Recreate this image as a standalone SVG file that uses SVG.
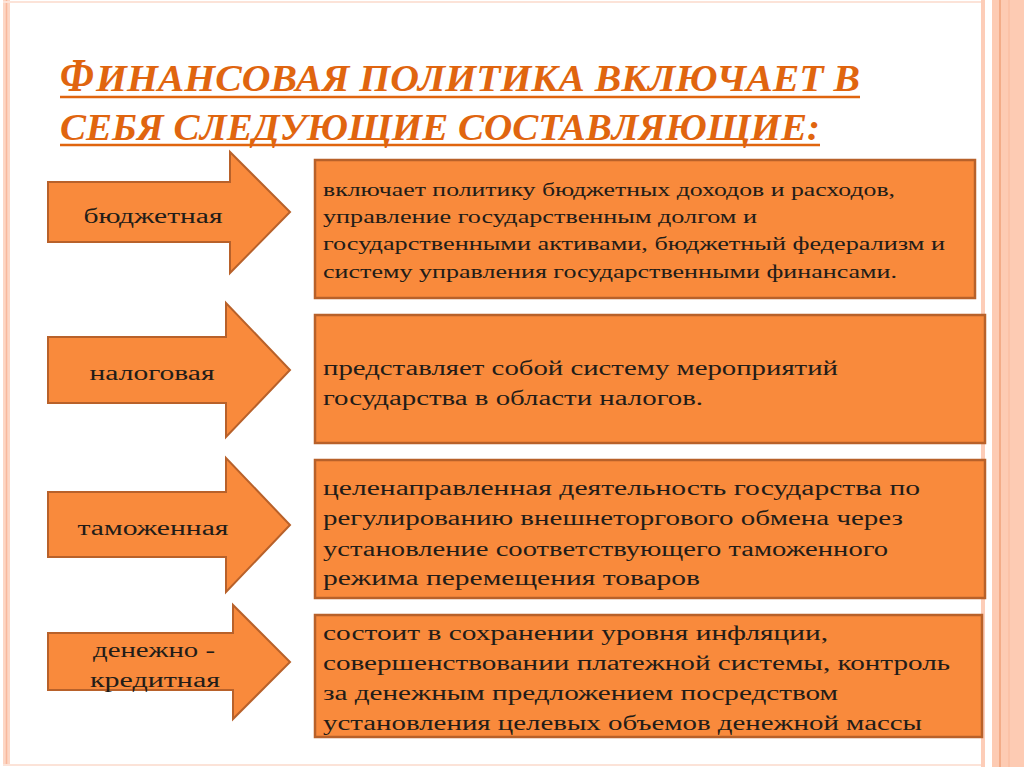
<svg xmlns="http://www.w3.org/2000/svg" width="1024" height="767" viewBox="0 0 1024 767">
<style>
.arrow{fill:#F98A3C;stroke:#B8612A;stroke-width:2;stroke-linejoin:miter}
.box{fill:#F98A3C;stroke:#B8612A;stroke-width:2.5}
.lbl{font-family:"Liberation Serif","DejaVu Serif",serif;font-size:20px;fill:#221C18;text-anchor:middle}
.body{font-family:"Liberation Serif","DejaVu Serif",serif;font-size:20px;fill:#221C18}
.b1{font-size:18px}
.title{font-family:"Liberation Serif","DejaVu Serif",serif;font-style:italic;font-weight:bold;fill:#E0650F}
</style>
<rect width="1024" height="767" fill="#FFFFFF"/>
<g id="frame">
<rect x="3" y="0" width="7" height="766" fill="#FDD6C4"/>
<line x1="6.5" y1="0" x2="6.5" y2="766" stroke="#F8B89C" stroke-width="1.5"/>
<line x1="3" y1="2" x2="985" y2="2" stroke="#FCE3D8" stroke-width="2"/>
<line x1="3" y1="765" x2="985" y2="765" stroke="#FCE3D8" stroke-width="2"/>
<rect x="981" y="0" width="4" height="767" fill="#FDCDB8"/>
<rect x="992" y="0" width="32" height="767" fill="#FDCBB3"/>
<line x1="1000" y1="0" x2="1000" y2="767" stroke="#EFA27A" stroke-width="1.5"/>
<line x1="1009" y1="0" x2="1009" y2="767" stroke="#F9B99B" stroke-width="1"/>
</g>
<g id="title">
<text class="title" x="60" y="91" font-size="46" textLength="34" lengthAdjust="spacingAndGlyphs">Ф</text>
<text class="title" x="96" y="91" font-size="37" textLength="764" lengthAdjust="spacingAndGlyphs">ИНАНСОВАЯ ПОЛИТИКА ВКЛЮЧАЕТ В</text>
<line x1="60" y1="97" x2="860" y2="97" stroke="#E0650F" stroke-width="2.5"/>
<text class="title" x="60" y="140" font-size="37" textLength="760" lengthAdjust="spacingAndGlyphs">СЕБЯ СЛЕДУЮЩИЕ СОСТАВЛЯЮЩИЕ:</text>
<line x1="60" y1="145" x2="820" y2="145" stroke="#E0650F" stroke-width="2.5"/>
</g>
<g id="connectors"></g>
<g id="arrow-budget">
<path class="arrow" d="M48,182 L230,182 L230,152 L290,212 L230,273 L230,242 L48,242 Z"/>
<text class="lbl" x="153" y="223" textLength="139" lengthAdjust="spacingAndGlyphs">бюджетная</text>
</g>
<g id="arrow-tax">
<path class="arrow" d="M48,337 L226,337 L226,303 L290,370 L226,437 L226,403 L48,403 Z"/>
<text class="lbl" x="152" y="380" textLength="125" lengthAdjust="spacingAndGlyphs">налоговая</text>
</g>
<g id="arrow-customs">
<path class="arrow" d="M48,492 L226,492 L226,458 L290,525 L226,592 L226,557 L48,557 Z"/>
<text class="lbl" x="153" y="535" textLength="151" lengthAdjust="spacingAndGlyphs">таможенная</text>
</g>
<g id="arrow-monetary">
<path class="arrow" d="M48,633 L233,633 L233,605 L290,662 L233,719 L233,690 L48,690 Z"/>
<text class="lbl" x="154" y="657" textLength="122" lengthAdjust="spacingAndGlyphs">денежно -</text>
<text class="lbl" x="155" y="687" textLength="130" lengthAdjust="spacingAndGlyphs">кредитная</text>
</g>
<g id="box-budget">
<rect class="box" x="315" y="160" width="660" height="138"/>
<text class="body b1" x="323" y="196" textLength="572" lengthAdjust="spacingAndGlyphs">включает политику бюджетных доходов и расходов,</text>
<text class="body b1" x="323" y="223" textLength="434" lengthAdjust="spacingAndGlyphs">управление государственным долгом и</text>
<text class="body b1" x="323" y="250" textLength="622" lengthAdjust="spacingAndGlyphs">государственными активами, бюджетный федерализм и</text>
<text class="body b1" x="323" y="278" textLength="574" lengthAdjust="spacingAndGlyphs">систему управления государственными финансами.</text>
</g>
<g id="box-tax">
<rect class="box" x="315" y="315" width="670" height="128"/>
<text class="body" x="323" y="375" textLength="515" lengthAdjust="spacingAndGlyphs">представляет собой систему мероприятий</text>
<text class="body" x="323" y="405" textLength="380" lengthAdjust="spacingAndGlyphs">государства в области налогов.</text>
</g>
<g id="box-customs">
<rect class="box" x="315" y="460" width="670" height="138"/>
<text class="body" x="323" y="495" textLength="597" lengthAdjust="spacingAndGlyphs">целенаправленная деятельность государства по</text>
<text class="body" x="323" y="525" textLength="580" lengthAdjust="spacingAndGlyphs">регулированию внешнеторгового обмена через</text>
<text class="body" x="323" y="556" textLength="565" lengthAdjust="spacingAndGlyphs">установление соответствующего таможенного</text>
<text class="body" x="323" y="585" textLength="377" lengthAdjust="spacingAndGlyphs">режима перемещения товаров</text>
</g>
<g id="box-monetary">
<rect class="box" x="315" y="615" width="667" height="122"/>
<text class="body" x="323" y="640" textLength="505" lengthAdjust="spacingAndGlyphs">состоит в сохранении уровня инфляции,</text>
<text class="body" x="323" y="670" textLength="627" lengthAdjust="spacingAndGlyphs">совершенствовании платежной системы, контроль</text>
<text class="body" x="323" y="700" textLength="515" lengthAdjust="spacingAndGlyphs">за денежным предложением посредством</text>
<text class="body" x="323" y="730" textLength="599" lengthAdjust="spacingAndGlyphs">установления целевых объемов денежной массы</text>
</g>
</svg>
